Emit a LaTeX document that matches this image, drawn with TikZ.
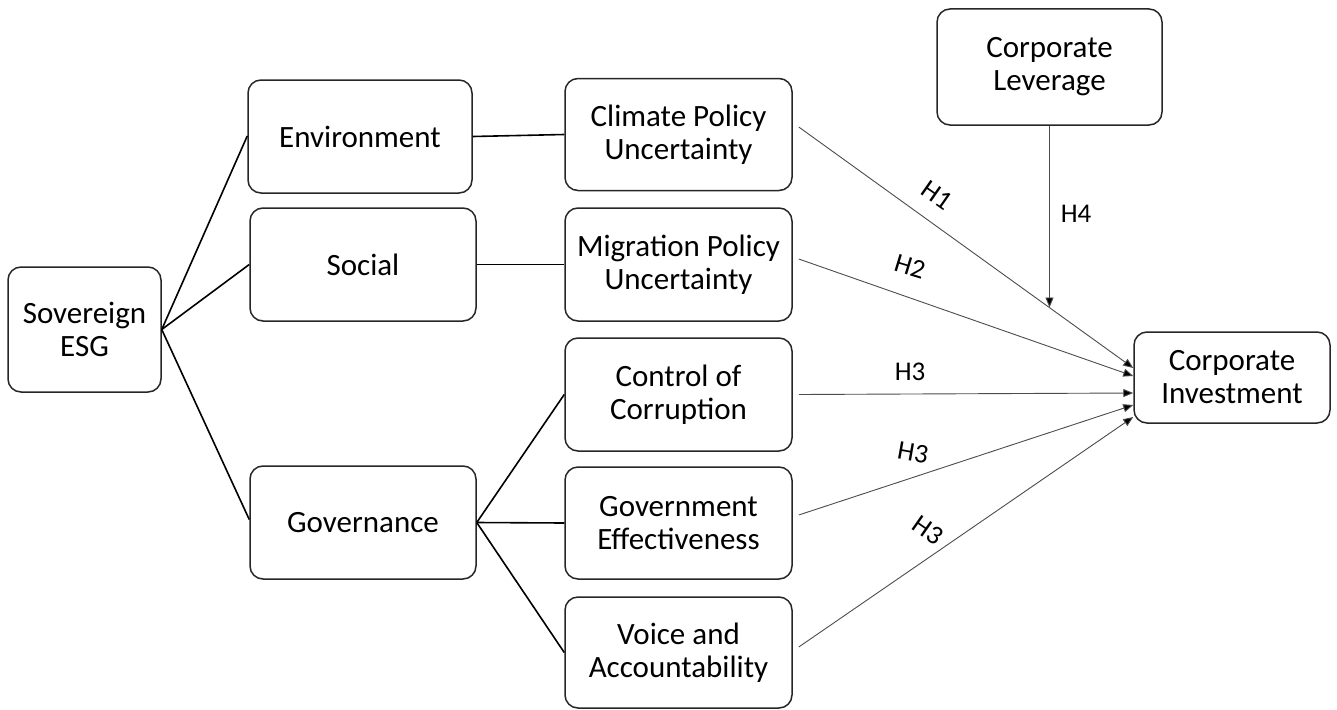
\documentclass[tikz,border=0pt]{standalone}
\usepackage{fontspec}
\setmainfont{Carlito}
\usetikzlibrary{arrows.meta,calc}
\begin{document}
\begin{tikzpicture}[x=1pt,y=-1pt,
  box/.style={draw=black!85,line width=1.5pt,rounded corners=13pt,align=center,inner sep=0pt,
    font=\fontsize{31}{33}\selectfont,text=black},
  link/.style={line width=1.6pt,black},
  hyp/.style={draw=black!70,line width=0.9pt,-{Triangle[length=10pt,width=8pt,fill=black]}},
  lab/.style={font=\fontsize{27}{29}\selectfont,inner sep=0pt}]
\useasboundingbox (0,0) rectangle (1337,709);
\node[box,minimum width=153pt,minimum height=125pt] (sov) at (84.5,329.5) {Sovereign\\ESG};
\node[box,minimum width=224pt,minimum height=113pt] (env) at (360,136.5) {Environment};
\node[box,minimum width=226pt,minimum height=113pt] (soc) at (363,264.5) {Social};
\node[box,minimum width=226pt,minimum height=113pt] (gov) at (363,522.5) {Governance};
\node[box,minimum width=227pt,minimum height=112pt] (clim) at (678.5,134.5) {Climate Policy\\Uncertainty};
\node[box,minimum width=227pt,minimum height=113pt] (mig) at (678.5,264.5) {Migration Policy\\Uncertainty};
\node[box,minimum width=227pt,minimum height=113pt] (ctrl) at (678.5,394.5) {Control of\\Corruption};
\node[box,minimum width=227pt,minimum height=112pt] (geff) at (678.5,523) {Government\\Effectiveness};
\node[box,minimum width=227pt,minimum height=111pt] (voice) at (678.5,652.5) {Voice and\\Accountability};
\node[box,minimum width=225pt,minimum height=116pt] (lev) at (1049.5,67) {Corporate\\Leverage};
\node[box,minimum width=196pt,minimum height=91pt] (inv) at (1232,377.5) {Corporate\\Investment};
% ESG links
\draw[link] (sov.east) -- ($(env.west)+(0,-0.5)$);
\draw[link] (sov.east) -- (soc.west);
\draw[link] (sov.east) -- ($(gov.west)+(0,-3)$);
\draw[link] (env.east) -- (clim.west);
\draw[link] (soc.east) -- (mig.west);
\draw[link] (gov.east) -- (ctrl.west);
\draw[link] (gov.east) -- (geff.west);
\draw[link] (gov.east) -- (voice.west);
% hypotheses
\draw[hyp] ($(clim.east)+(6,-7.5)$) -- ($(inv.west)+(0,-9.5)$);
\draw[hyp] ($(mig.east)+(6,-5.5)$) -- ($(inv.west)+(0,-1.5)$);
\draw[hyp] ($(ctrl.east)+(6,0)$) -- ($(inv.west)+(0,15.5)$);
\draw[hyp] ($(geff.east)+(6,-8)$) -- ($(inv.west)+(0,27.5)$);
\draw[hyp] ($(voice.east)+(6,-5.5)$) -- ($(inv.west)+(0,39.5)$);
\coordinate (h4end) at (1049.5,307.5);
\draw[hyp] (lev.south) -- (h4end);
\node[lab,rotate=-35] (l1) at (937,195) {H1};
\node[lab,rotate=-17] (l2) at (910,267) {H2};
\node[lab] (l3) at (910,372) {H3};
\node[lab,rotate=-10] (l4) at (913,453) {H3};
\node[lab,rotate=-35] (l5) at (928,530) {H3};
\node[lab] (l6) at (1076,214) {H4};
\end{tikzpicture}
\end{document}
